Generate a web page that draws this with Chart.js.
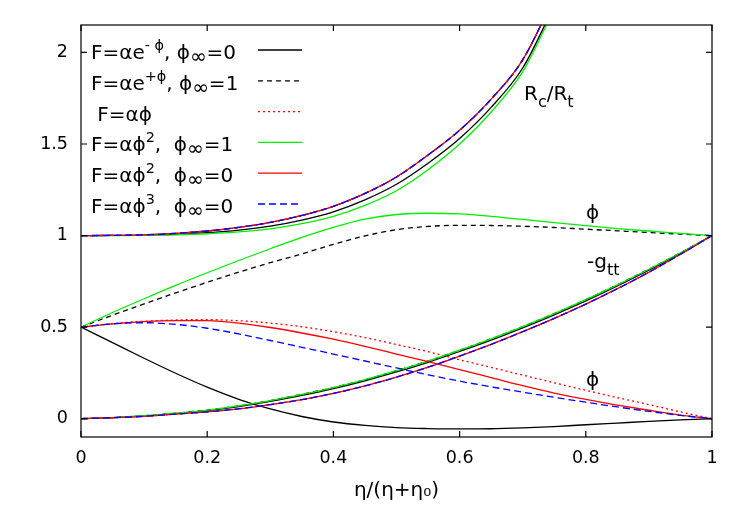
<!DOCTYPE html>
<html>
<head>
<meta charset="utf-8">
<script src="https://cdn.jsdelivr.net/npm/chart.js@4.4.1/dist/chart.umd.min.js"></script>
<style>
  html, body { margin: 0; padding: 0; background: #fff; }
  #wrap { width: 750px; height: 525px; }
</style>
</head>
<body>
<div id="wrap"><canvas id="chart" width="750" height="525"></canvas></div>
<script>
// x positions, eta/(eta+eta0)
const xGrid = [0, 0.05, 0.1, 0.15, 0.2, 0.25, 0.3, 0.35, 0.4, 0.45, 0.5,
               0.55, 0.6, 0.65, 0.7, 0.75, 0.8, 0.85, 0.9, 0.95, 1];
const xRc = [0, 0.05, 0.1, 0.15, 0.2, 0.25, 0.3, 0.35, 0.4, 0.45, 0.5,
             0.55, 0.6, 0.65, 0.7, 0.75];

const xTicks = [0, 0.2, 0.4, 0.6, 0.8, 1];
const yTicks = [0, 0.5, 1, 1.5, 2];

// legend labels, ^{} = superscript, _{} = subscript
const seriesLabels = [
  'F=αe^{- ϕ}, ϕ_{∞}=0',
  'F=αe^{+ϕ}, ϕ_{∞}=1',
  ' F=αϕ',
  'F=αϕ^{2},  ϕ_{∞}=1',
  'F=αϕ^{2},  ϕ_{∞}=0',
  'F=αϕ^{3},  ϕ_{∞}=0'
];

// R_c/R_t
const rcExpMinus = [1.0, 1.001, 1.002, 1.007, 1.016, 1.03, 1.052, 1.085, 1.13, 1.195, 1.28, 1.395, 1.53, 1.70, 1.915, 2.255];
const rcExpPlus  = [1.0, 1.001, 1.004, 1.012, 1.025, 1.045, 1.072, 1.11, 1.16, 1.23, 1.32, 1.44, 1.575, 1.745, 1.96, 2.30];
const rcLinear   = [1.0, 1.001, 1.004, 1.012, 1.025, 1.045, 1.072, 1.11, 1.16, 1.23, 1.32, 1.44, 1.575, 1.745, 1.96, 2.30];
const rcSq1      = [1.0, 1.0, 1.001, 1.004, 1.01, 1.02, 1.037, 1.065, 1.105, 1.165, 1.245, 1.36, 1.50, 1.675, 1.895, 2.24];
const rcSq0      = [1.0, 1.001, 1.004, 1.012, 1.025, 1.045, 1.072, 1.11, 1.16, 1.23, 1.32, 1.44, 1.575, 1.745, 1.96, 2.30];
const rcCube0    = [1.0, 1.001, 1.004, 1.012, 1.025, 1.045, 1.072, 1.11, 1.16, 1.23, 1.32, 1.44, 1.575, 1.745, 1.96, 2.30];

// phi
const phiExpMinus = [0.5, 0.415, 0.33, 0.248, 0.172, 0.106, 0.053, 0.012, -0.018, -0.037, -0.049, -0.054, -0.056, -0.055, -0.05, -0.043, -0.033, -0.024, -0.015, -0.007, 0];
const phiExpPlus  = [0.5, 0.565, 0.627, 0.687, 0.745, 0.80, 0.852, 0.90, 0.952, 0.998, 1.032, 1.05, 1.056, 1.055, 1.051, 1.044, 1.035, 1.026, 1.017, 1.008, 1.0];
const phiLinear   = [0.5, 0.519, 0.532, 0.539, 0.541, 0.535, 0.522, 0.502, 0.475, 0.443, 0.405, 0.366, 0.322, 0.28, 0.238, 0.196, 0.155, 0.115, 0.077, 0.037, 0];
const phiSq1      = [0.5, 0.58, 0.655, 0.728, 0.797, 0.864, 0.928, 0.99, 1.045, 1.09, 1.115, 1.122, 1.118, 1.105, 1.088, 1.071, 1.054, 1.038, 1.025, 1.012, 1.0];
const phiSq0      = [0.5, 0.518, 0.53, 0.536, 0.535, 0.522, 0.498, 0.468, 0.434, 0.395, 0.353, 0.311, 0.268, 0.224, 0.18, 0.14, 0.105, 0.074, 0.046, 0.02, 0];
const phiCube0    = [0.5, 0.518, 0.524, 0.515, 0.494, 0.463, 0.427, 0.39, 0.353, 0.315, 0.277, 0.24, 0.205, 0.174, 0.145, 0.117, 0.09, 0.064, 0.04, 0.018, 0];

// -g_tt
const gttExpMinus = [0, 0.006, 0.015, 0.028, 0.044, 0.066, 0.094, 0.127, 0.164, 0.207, 0.255, 0.308, 0.367, 0.429, 0.496, 0.567, 0.643, 0.725, 0.811, 0.903, 1];
const gttExpPlus  = [0, 0.006, 0.016, 0.03, 0.047, 0.07, 0.099, 0.133, 0.17, 0.213, 0.262, 0.315, 0.374, 0.436, 0.503, 0.574, 0.65, 0.731, 0.816, 0.906, 1];
const gttLinear   = [0, 0.005, 0.013, 0.025, 0.037, 0.054, 0.077, 0.104, 0.138, 0.179, 0.227, 0.281, 0.342, 0.406, 0.475, 0.548, 0.626, 0.71, 0.8, 0.898, 1];
const gttSq1      = [0, 0.006, 0.016, 0.03, 0.047, 0.07, 0.099, 0.133, 0.17, 0.213, 0.262, 0.315, 0.374, 0.436, 0.503, 0.574, 0.65, 0.731, 0.816, 0.906, 1];
const gttSq0      = [0, 0.005, 0.013, 0.025, 0.037, 0.054, 0.077, 0.104, 0.138, 0.179, 0.227, 0.281, 0.342, 0.406, 0.475, 0.548, 0.626, 0.71, 0.8, 0.898, 1];
const gttCube0    = [0, 0.005, 0.013, 0.025, 0.037, 0.054, 0.077, 0.104, 0.138, 0.179, 0.227, 0.281, 0.342, 0.406, 0.475, 0.548, 0.626, 0.71, 0.8, 0.898, 1];

const families = [
  { rc: rcExpMinus, phi: phiExpMinus, gtt: gttExpMinus, color: '#000000', dash: [] },
  { rc: rcExpPlus,  phi: phiExpPlus,  gtt: gttExpPlus,  color: '#000000', dash: [5, 4] },
  { rc: rcLinear,   phi: phiLinear,   gtt: gttLinear,   color: '#ff0000', dash: [2, 3] },
  { rc: rcSq1,      phi: phiSq1,      gtt: gttSq1,      color: '#00ee00', dash: [] },
  { rc: rcSq0,      phi: phiSq0,      gtt: gttSq0,      color: '#ff0000', dash: [] },
  { rc: rcCube0,    phi: phiCube0,    gtt: gttCube0,    color: '#0000ff', dash: [7, 4] }
];

const FONT = '"DejaVu Sans", "Liberation Sans", sans-serif';

const toPoints = (xs, ys) => xs.map((x, i) => ({ x: x, y: ys[i] }));

const datasets = [];
families.forEach((f, i) => {
  [[xRc, f.rc], [xGrid, f.phi], [xGrid, f.gtt]].forEach(([xs, ys]) => {
    datasets.push({
      data: toPoints(xs, ys),
      borderColor: f.color,
      borderDash: f.dash,
      borderWidth: 1.3,
      pointRadius: 0,
      cubicInterpolationMode: 'monotone',
      fill: false,
      order: 5 - i
    });
  });
});

// draw a string with ^{..} and _{..} parts
function drawRich(ctx, str, x, y, size) {
  const parts = str.split(/(\^\{[^}]*\}|_\{[^}]*\})/).filter(s => s.length);
  ctx.textBaseline = 'alphabetic';
  ctx.textAlign = 'left';
  parts.forEach(p => {
    let txt = p, sz = size, dy = 0;
    if (p.startsWith('^{')) { txt = p.slice(2, -1); sz = size * 0.72; dy = -9; }
    else if (p.startsWith('_{')) { txt = p.slice(2, -1); sz = txt === '∞' ? size : size * 0.8; dy = txt === '∞' ? 4 : 7; }
    ctx.font = sz + 'px ' + FONT;
    ctx.fillText(txt, x, y + dy);
    x += ctx.measureText(txt).width;
  });
}

const framePlugin = {
  id: 'frame',
  afterDatasetsDraw(chart) {
    const { ctx, chartArea: a, scales } = chart;
    ctx.save();
    ctx.strokeStyle = '#000';
    ctx.lineWidth = 1.2;
    ctx.setLineDash([]);
    ctx.strokeRect(a.left, a.top, a.right - a.left, a.bottom - a.top);
    const tl = 6;
    ctx.beginPath();
    xTicks.forEach(v => {
      const px = scales.x.getPixelForValue(v);
      ctx.moveTo(px, a.bottom); ctx.lineTo(px, a.bottom - tl);
      ctx.moveTo(px, a.top); ctx.lineTo(px, a.top + tl);
    });
    yTicks.forEach(v => {
      const py = scales.y.getPixelForValue(v);
      ctx.moveTo(a.left, py); ctx.lineTo(a.left + tl, py);
      ctx.moveTo(a.right, py); ctx.lineTo(a.right - tl, py);
    });
    ctx.stroke();
    ctx.restore();
  },
  afterDraw(chart) {
    const { ctx } = chart;
    ctx.save();
    ctx.fillStyle = '#000';
    // key, top left
    seriesLabels.forEach((lab, i) => {
      const base = 59 + i * 30.8;
      drawRich(ctx, lab, 91, base, 20);
      const f = families[i];
      ctx.strokeStyle = f.color;
      ctx.lineWidth = 1.3;
      ctx.setLineDash(f.dash);
      ctx.beginPath();
      ctx.moveTo(258, base - 9);
      ctx.lineTo(302, base - 9);
      ctx.stroke();
    });
    ctx.setLineDash([]);
    // curve labels
    drawRich(ctx, 'R_{c}/R_{t}', 524, 100, 20);
    drawRich(ctx, 'ϕ', 586, 219, 20);
    drawRich(ctx, '-g_{tt}', 587, 268, 20);
    drawRich(ctx, 'ϕ', 586, 386, 20);
    ctx.restore();
  }
};

new Chart(document.getElementById('chart'), {
  type: 'line',
  data: { datasets: datasets },
  options: {
    responsive: false,
    animation: false,
    devicePixelRatio: 1,
    layout: { padding: { left: 0, right: 38, top: 25, bottom: 0 } },
    plugins: { legend: { display: false }, tooltip: { enabled: false } },
    scales: {
      x: {
        type: 'linear',
        min: 0,
        max: 1,
        grid: { display: false, drawTicks: false },
        border: { display: false },
        afterBuildTicks: s => { s.ticks = xTicks.map(v => ({ value: v })); },
        afterFit: s => { s.height = 88; },
        ticks: {
          color: '#000',
          padding: 11,
          font: { family: FONT, size: 17.5 },
          callback: v => String(v)
        },
        title: {
          display: true,
          text: 'η/(η+η₀)',
          color: '#000',
          font: { family: FONT, size: 20 },
          padding: { top: 0, bottom: 22 }
        }
      },
      y: {
        type: 'linear',
        min: -0.1,
        max: 2.15,
        grid: { display: false, drawTicks: false },
        border: { display: false },
        afterBuildTicks: s => { s.ticks = yTicks.map(v => ({ value: v })); },
        afterFit: s => { s.width = 81; },
        ticks: {
          color: '#000',
          padding: 13,
          font: { family: FONT, size: 17.5 },
          callback: v => String(v)
        }
      }
    }
  },
  plugins: [framePlugin]
});
</script>
</body>
</html>
